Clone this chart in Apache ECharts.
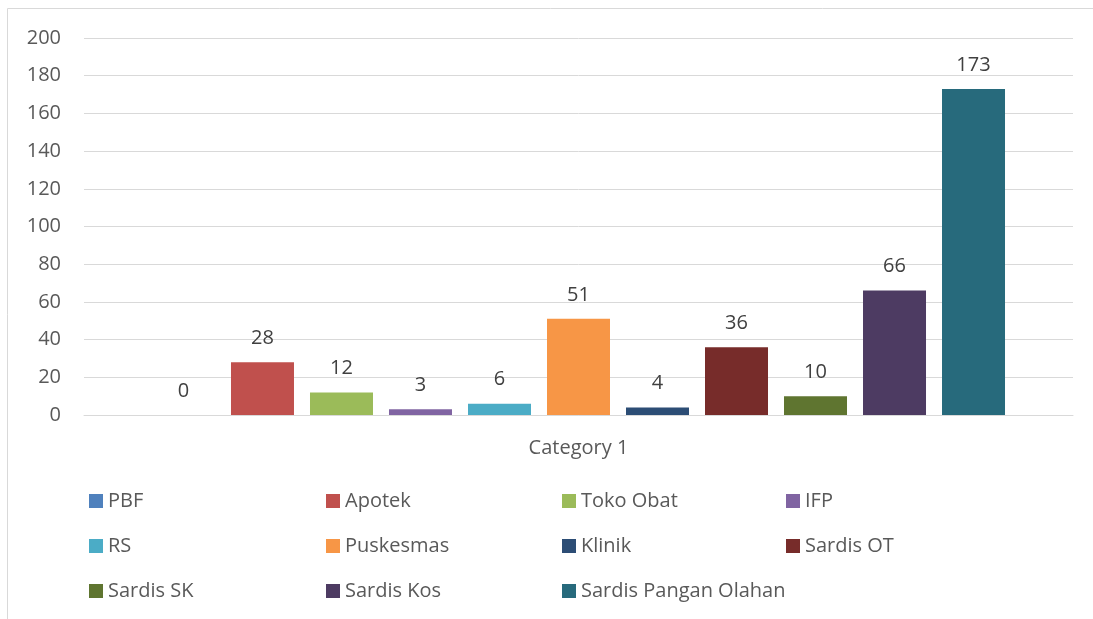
<!DOCTYPE html>
<html>
<head>
<meta charset="utf-8">
<script src="https://cdn.jsdelivr.net/npm/echarts@6/dist/echarts.min.js"></script>
<style>
html,body{margin:0;padding:0;background:#fff;}
#c{width:1093px;height:619px;}
</style>
</head>
<body>
<div id="c"></div>
<script>
const categories = ['Category 1'];
const seriesNames = ['PBF','Apotek','Toko Obat','IFP','RS','Puskesmas','Klinik','Sardis OT','Sardis SK','Sardis Kos','Sardis Pangan Olahan'];
const seriesValues = [0,28,12,3,6,51,4,36,10,66,173];
const seriesColors = ['#4F81BD','#C0504D','#9BBB59','#8064A2','#4BACC6','#F79646','#2C4D75','#772C2A','#5F7530','#4D3B62','#276A7C'];
const yTicks = {min:0, max:200, interval:20};

const FONT = '"Open Sans", sans-serif';
const chart = echarts.init(document.getElementById('c'), null, {renderer:'canvas'});

const legendCols = [[0,4,8],[1,5,9],[2,6,10],[3,7]];
const legendX = [89, 326, 562, 786];

const option = {
  animation:false,
  textStyle:{fontFamily:FONT},
  graphic:[{type:'rect', shape:{x:7.5,y:8.5,width:1200,height:800}, style:{fill:'none',stroke:'#d9d9d9',lineWidth:1}, silent:true, z:-1}],
  grid:{left:84,right:20,top:38,bottom:204,containLabel:false},
  legend: legendCols.map((col,i)=>({
    orient:'vertical',
    left:legendX[i], top:489, padding:0,
    itemWidth:14, itemHeight:14, itemGap:21,
    icon:'rect',
    textStyle:{fontSize:20,lineHeight:24,color:'#595959',fontFamily:FONT},
    data: col.map(j=>seriesNames[j])
  })),
  xAxis:{
    type:'category', data:categories,
    axisLine:{lineStyle:{color:'#d9d9d9'}},
    axisTick:{show:false},
    axisLabel:{fontSize:20,color:'#595959',margin:23,fontFamily:FONT}
  },
  yAxis:{
    type:'value', min:yTicks.min, max:yTicks.max, interval:yTicks.interval,
    axisLine:{show:false}, axisTick:{show:false},
    splitLine:{lineStyle:{color:'#d9d9d9',width:1}},
    axisLabel:{fontSize:20,color:'#595959',margin:23,fontFamily:FONT}
  },
  series: seriesNames.map((n,i)=>({
    name:n, type:'bar', data:[seriesValues[i]],
    barWidth:63, barGap:'25.4%',
    itemStyle:{color:seriesColors[i]},
    label:{show:true, position:'top', distance:14, fontSize:20, color:'#404040', fontFamily:FONT}
  }))
};
chart.setOption(option);
</script>
</body>
</html>
